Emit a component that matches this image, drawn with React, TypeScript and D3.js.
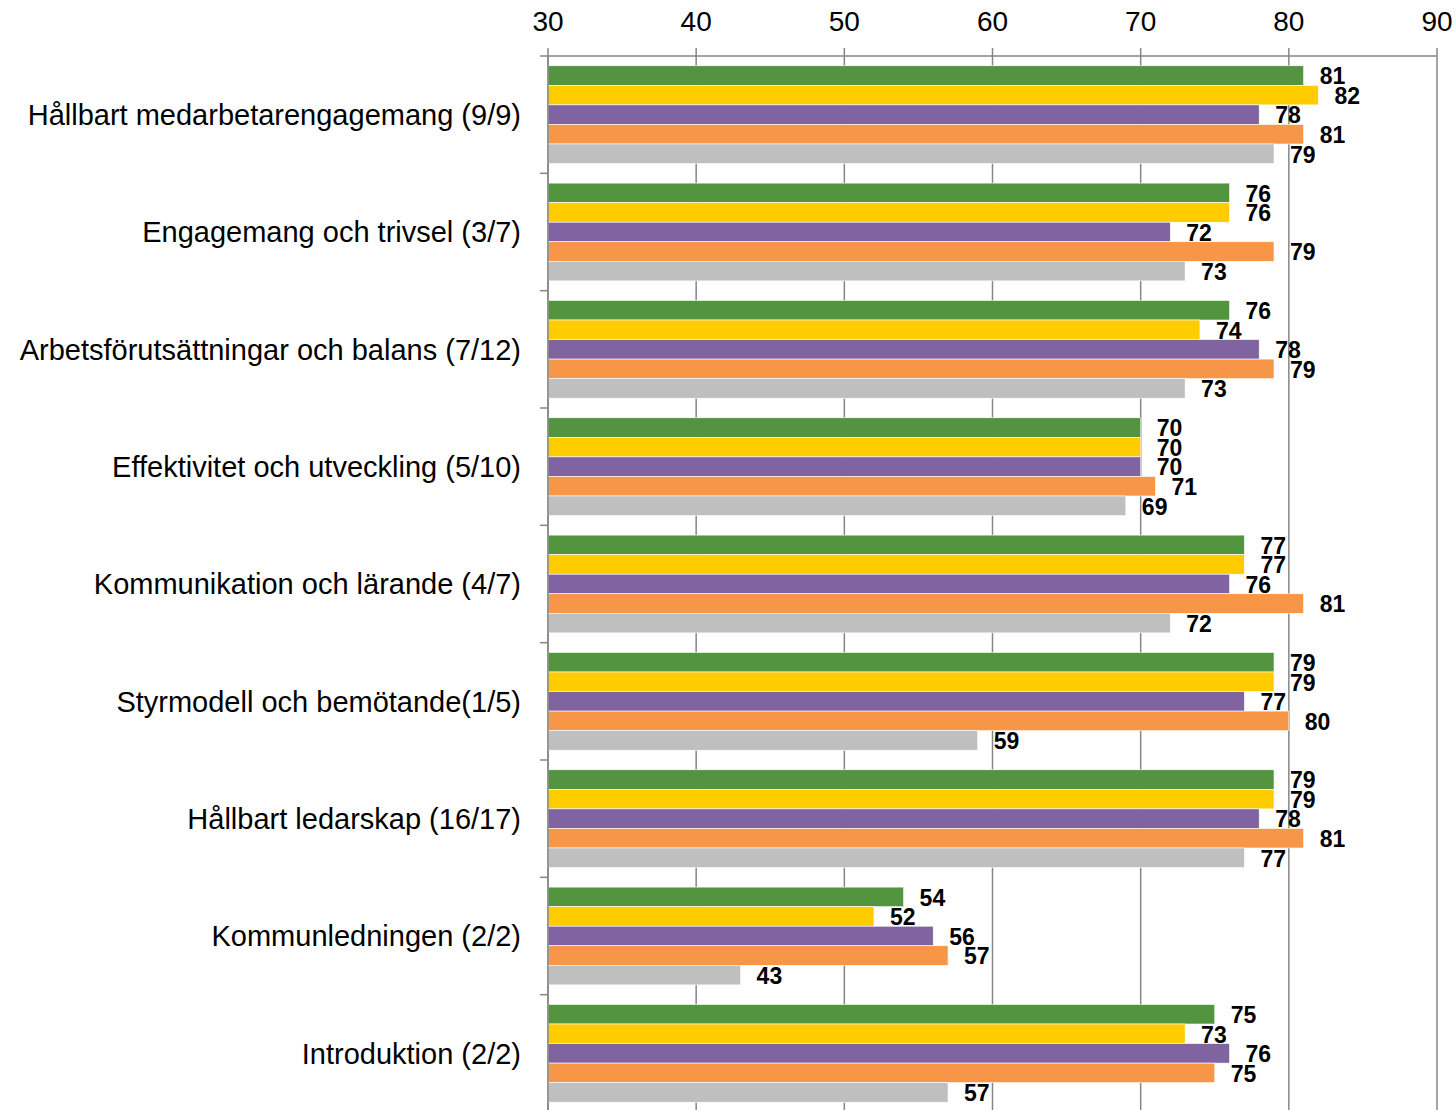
import { useEffect } from "react";
import * as d3 from "d3";

const categories = [
  "Hållbart medarbetarengagemang (9/9)",
  "Engagemang och trivsel (3/7)",
  "Arbetsförutsättningar och balans (7/12)",
  "Effektivitet och utveckling (5/10)",
  "Kommunikation och lärande (4/7)",
  "Styrmodell och bemötande(1/5)",
  "Hållbart ledarskap (16/17)",
  "Kommunledningen (2/2)",
  "Introduktion (2/2)",
];

const seriesGreen = [81, 76, 76, 70, 77, 79, 79, 54, 75];
const seriesYellow = [82, 76, 74, 70, 77, 79, 79, 52, 73];
const seriesPurple = [78, 72, 78, 70, 76, 77, 78, 56, 76];
const seriesOrange = [81, 79, 79, 71, 81, 80, 81, 57, 75];
const seriesGray = [79, 73, 73, 69, 72, 59, 77, 43, 57];

const seriesList = [seriesGreen, seriesYellow, seriesPurple, seriesOrange, seriesGray];
const colors = ["#53943F", "#FFCC00", "#8064A2", "#F79646", "#BFBFBF"];

const xTicks = [30, 40, 50, 60, 70, 80, 90];

const WIDTH = 1456;
const HEIGHT = 1110;
const LEFT = 548;
const RIGHT = 1437;
const TOP = 56;
const BOTTOM = 1112;
const GRID = "#868686";

export default function App() {
  useEffect(() => {
    document.body.style.margin = "0";
  }, []);

  const x = d3.scaleLinear().domain([30, 90]).range([LEFT, RIGHT]);
  const y = d3
    .scaleBand()
    .domain(categories)
    .range([TOP, BOTTOM])
    .padding(0);
  const inner = d3
    .scaleBand<number>()
    .domain(d3.range(seriesList.length))
    .range([0, y.bandwidth()])
    .paddingInner(0)
    .paddingOuter(0.5);

  const font = "'Liberation Sans', Arial, sans-serif";

  return (
    <svg width={WIDTH} height={HEIGHT} style={{ display: "block" }} fontFamily={font}>
      {/* gridlines + top ticks */}
      {xTicks.map((t) => (
        <g key={t}>
          <line x1={x(t)} x2={x(t)} y1={TOP - 8} y2={BOTTOM} stroke={GRID} strokeWidth={1.5} />
          <text x={x(t)} y={31} textAnchor="middle" fontSize={28} fill="#000">
            {t}
          </text>
        </g>
      ))}
      <line x1={LEFT} x2={RIGHT} y1={TOP} y2={TOP} stroke={GRID} strokeWidth={1.5} />

      {/* bars */}
      {categories.map((c, ci) => (
        <g key={c} transform={`translate(0,${y(c)})`}>
          {seriesList.map((s, si) => (
            <rect
              key={si}
              x={x(30)}
              y={inner(si)}
              width={x(s[ci]) - x(30)}
              height={inner.bandwidth()}
              fill={colors[si]}
              stroke="#fff"
              strokeWidth={0.6}
            />
          ))}
          {seriesList.map((s, si) => (
            <text
              key={"l" + si}
              x={x(s[ci]) + 16}
              y={(inner(si) ?? 0) + inner.bandwidth() / 2}
              dy="0.38em"
              fontSize={23}
              fontWeight="bold"
              fill="#000"
            >
              {s[ci]}
            </text>
          ))}
          <text
            x={LEFT - 27}
            y={y.bandwidth() / 2}
            dy="0.36em"
            textAnchor="end"
            fontSize={29}
            fill="#000"
          >
            {c}
          </text>
        </g>
      ))}

      {/* left axis */}
      <line x1={LEFT} x2={LEFT} y1={TOP} y2={BOTTOM} stroke={GRID} strokeWidth={1.5} />
      {d3.range(categories.length + 1).map((i) => {
        const yy = TOP + i * y.step();
        return <line key={i} x1={LEFT - 8} x2={LEFT} y1={yy} y2={yy} stroke={GRID} strokeWidth={1.5} />;
      })}
    </svg>
  );
}
